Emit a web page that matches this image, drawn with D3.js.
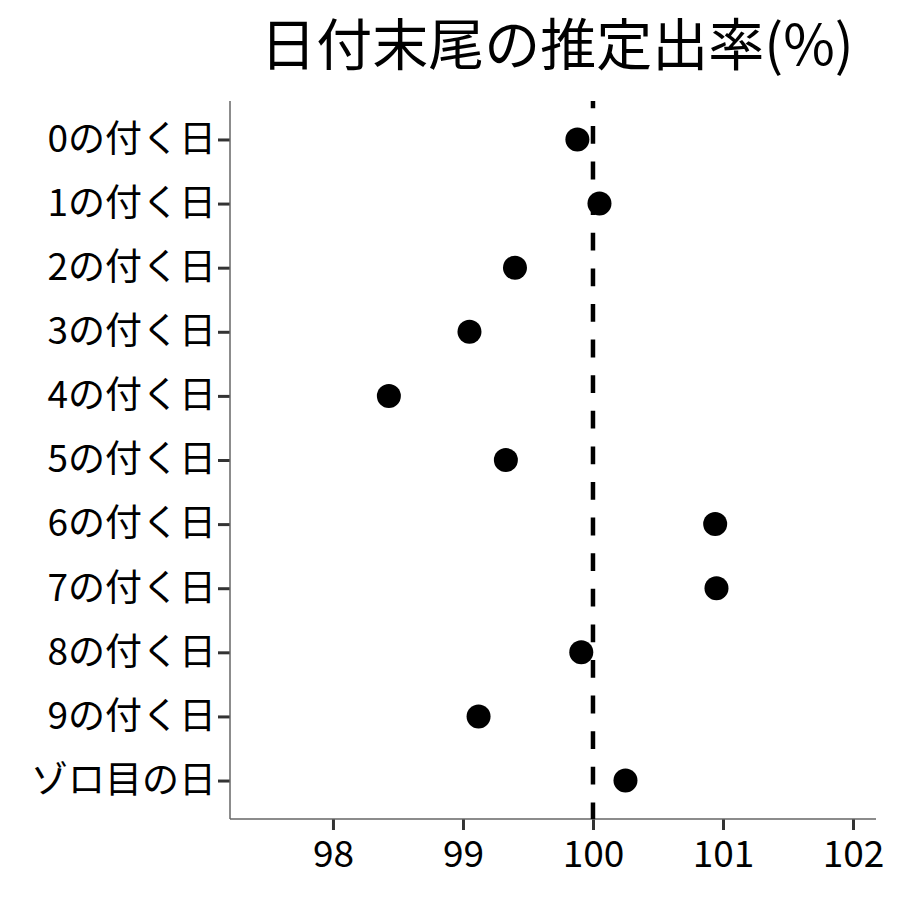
<!DOCTYPE html>
<html><head><meta charset="utf-8">
<script src="https://cdn.jsdelivr.net/npm/d3@7"></script>
<style>body{margin:0;background:#fff;} svg{display:block;}</style>
</head><body>
<script>
const categories = ["0の付く日","1の付く日","2の付く日","3の付く日","4の付く日","5の付く日","6の付く日","7の付く日","8の付く日","9の付く日","ゾロ目の日"];
const values = [99.88, 100.05, 99.40, 99.05, 98.43, 99.33, 100.94, 100.95, 99.91, 99.12, 100.25];
const xTicks = [98, 99, 100, 101, 102];
const refValue = 100;
const title = "日付末尾の推定出率(%)";

const W = 900, H = 900;
const pLeft = 230, pRight = 876, pTop = 101, pBottom = 819;
const font = "'Noto Sans CJK JP', 'Noto Sans', sans-serif";

const svg = d3.select("body").append("svg").attr("width", W).attr("height", H);
svg.append("rect").attr("width", W).attr("height", H).attr("fill", "#fff");

const x = d3.scaleLinear().domain([97.208, 102.177]).range([pLeft, pRight]);
const y = d3.scalePoint().domain(categories).range([pTop, pBottom]).padding(0.6);

// title
svg.append("text").attr("x", 557).attr("y", 65)
  .attr("text-anchor", "middle").attr("font-family", font).attr("font-size", 56)
  .attr("fill", "#000").text(title);

// axes
const xAxis = d3.axisBottom(x).tickValues(xTicks).tickSize(11).tickPadding(11).tickFormat(d3.format("d"));
const gx = svg.append("g").attr("transform", `translate(0,${pBottom})`).call(xAxis);
gx.select(".domain").remove();
gx.selectAll(".tick line").attr("stroke", "#333").attr("stroke-width", 3);
gx.selectAll(".tick text").attr("font-family", font).attr("font-size", 37).attr("fill", "#000");

const yAxis = d3.axisLeft(y).tickSize(12).tickPadding(2);
const gy = svg.append("g").attr("transform", `translate(${pLeft},0)`).call(yAxis);
gy.select(".domain").remove();
gy.selectAll(".tick line").attr("stroke", "#333").attr("stroke-width", 3);
gy.selectAll(".tick text").attr("font-family", font).attr("font-size", 37).attr("fill", "#000");

// axis lines
svg.append("line").attr("x1", pLeft).attr("x2", pLeft).attr("y1", pTop).attr("y2", pBottom)
  .attr("stroke", "#666").attr("stroke-width", 1.5);
svg.append("line").attr("x1", pLeft).attr("x2", pRight).attr("y1", pBottom).attr("y2", pBottom)
  .attr("stroke", "#666").attr("stroke-width", 1.5);

// points
svg.append("g").selectAll("circle").data(categories).join("circle")
  .attr("cx", (d, i) => x(values[i])).attr("cy", d => y(d)).attr("r", 12).attr("fill", "#000");

// reference dashed line
svg.append("line").attr("x1", x(refValue)).attr("x2", x(refValue)).attr("y1", pTop).attr("y2", pBottom)
  .attr("stroke", "#000").attr("stroke-width", 4.5)
  .attr("stroke-dasharray", "17.8,17.8").attr("stroke-dashoffset", 10.6);
</script>
</body></html>
